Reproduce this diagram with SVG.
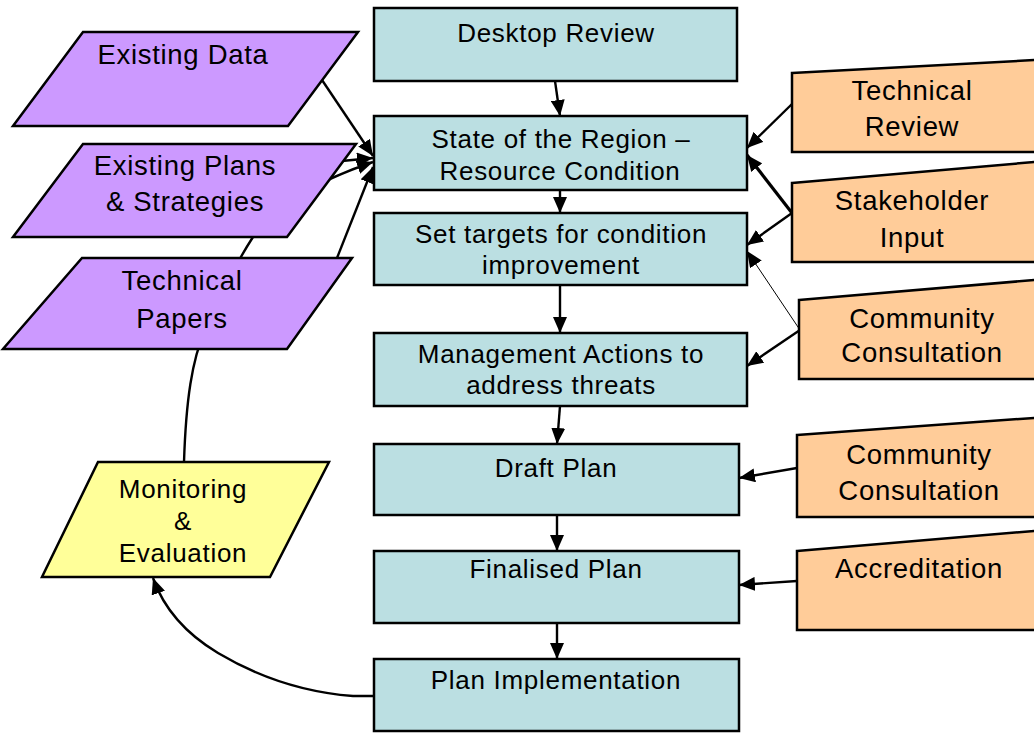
<svg xmlns="http://www.w3.org/2000/svg" width="1034" height="733" viewBox="0 0 1034 733">
  <style>
    .step { fill: #BBDFE2; stroke: #000; stroke-width: 2.5; }
    .input { fill: #CC99FF; stroke: #000; stroke-width: 2.5; stroke-linejoin: miter; }
    .review { fill: #FFFF99; stroke: #000; stroke-width: 2.5; }
    .external { fill: #FFCC99; stroke: #000; stroke-width: 2.5; }
    text { font-family: "Liberation Sans", Arial, sans-serif; font-size: 26px; letter-spacing: 0.7px; fill: #000; text-anchor: middle; }
    .large { font-size: 27.5px; }
    .link { fill: none; stroke: #000; stroke-width: 2.4; marker-end: url(#arrow); }
    .heavy { stroke-width: 3.2; }
    .thin { stroke-width: 1; }
  </style>
  <defs>
    <marker id="arrow" markerUnits="userSpaceOnUse" markerWidth="16" markerHeight="14" refX="16" refY="7" orient="auto">
      <path d="M0,0 L16,7 L0,14 z" fill="#000"/>
    </marker>
  </defs>

  <rect width="1034" height="733" fill="#fff"/>

  <!-- connectors, drawn first so they pass behind the shapes -->
  <g id="connectors">
    <!-- main process chain -->
    <path class="link" d="M555,81 L560,116"/>
    <path class="link" d="M560,190 L560,213"/>
    <path class="link" d="M560,285 L560,333"/>
    <path class="link" d="M560,406 L557,444"/>
    <path class="link" d="M557,515 L557,551"/>
    <path class="link" d="M557,623 L557,659"/>

    <!-- inputs on the left -->
    <path class="link" d="M322,80 L373,156"/>
    <path class="link" d="M300,165 L373,158"/>
    <path class="link" d="M337,258 L373,167"/>
    <!-- monitoring feedback loop into the state of the region -->
    <path class="link" d="M184,462 C186,400 192,360 205,330 C220,295 235,265 253,237 C275,205 320,180 373,162"/>

    <!-- inputs on the right -->
    <path class="link" d="M792,104 L747,148"/>
    <path class="link heavy" d="M792,213 L747,155"/>
    <path class="link" d="M792,213 L747,245"/>
    <path class="link thin" d="M800,330 L747,251"/>
    <path class="link" d="M800,330 L747,366"/>
    <path class="link" d="M797,468 L739,478"/>
    <path class="link" d="M797,581 L739,585"/>

    <!-- implementation back to monitoring -->
    <path class="link" d="M377,696 L353,696 C300,692 255,675 218,653 C188,635 165,612 153,578"/>
  </g>

  <!-- process steps -->
  <g id="desktop-review">
    <rect class="step" x="374" y="8" width="363" height="73"/>
    <text x="556" y="42">Desktop Review</text>
  </g>
  <g id="state-of-region">
    <rect class="step" x="374" y="116" width="373" height="74"/>
    <text x="561" y="148">State of the Region –</text>
    <text x="560" y="180">Resource Condition</text>
  </g>
  <g id="set-targets">
    <rect class="step" x="374" y="213" width="373" height="72"/>
    <text x="561" y="243">Set targets for condition</text>
    <text x="561" y="274">improvement</text>
  </g>
  <g id="management-actions">
    <rect class="step" x="374" y="333" width="373" height="73"/>
    <text x="561" y="363">Management Actions to</text>
    <text x="561" y="394">address threats</text>
  </g>
  <g id="draft-plan">
    <rect class="step" x="374" y="444" width="365" height="71"/>
    <text x="556" y="477">Draft Plan</text>
  </g>
  <g id="finalised-plan">
    <rect class="step" x="374" y="551" width="365" height="72"/>
    <text x="556" y="578">Finalised Plan</text>
  </g>
  <g id="plan-implementation">
    <rect class="step" x="374" y="659" width="365" height="72"/>
    <text x="556" y="689">Plan Implementation</text>
  </g>

  <!-- data inputs -->
  <g id="existing-data">
    <polygon class="input" points="83,32 358,32 288,126 13,126"/>
    <text class="large" x="183" y="64">Existing Data</text>
  </g>
  <g id="existing-plans">
    <polygon class="input" points="83,144 356,144 287,237 13,237"/>
    <text class="large" x="185" y="175">Existing Plans</text>
    <text class="large" x="185" y="211">&amp; Strategies</text>
  </g>
  <g id="technical-papers">
    <polygon class="input" points="82,258 352,258 287,349 3,349"/>
    <text class="large" x="182" y="290">Technical</text>
    <text class="large" x="182" y="328">Papers</text>
  </g>

  <g id="monitoring-evaluation">
    <polygon class="review" points="98,462 329,462 270,577 42,577"/>
    <text x="183" y="498">Monitoring</text>
    <text x="183" y="530">&amp;</text>
    <text x="183" y="562">Evaluation</text>
  </g>

  <!-- external inputs -->
  <g id="technical-review">
    <polygon class="external" points="792,73 1040,59.7 1040,152 792,152"/>
    <text class="large" x="912" y="100">Technical</text>
    <text class="large" x="912" y="136">Review</text>
  </g>
  <g id="stakeholder-input">
    <polygon class="external" points="792,183 1040,161.5 1040,262 792,262"/>
    <text class="large" x="912" y="210">Stakeholder</text>
    <text class="large" x="912" y="247">Input</text>
  </g>
  <g id="community-consultation-1">
    <polygon class="external" points="799,300 1040,279.5 1040,379 799,379"/>
    <text class="large" x="922" y="328">Community</text>
    <text class="large" x="922" y="362">Consultation</text>
  </g>
  <g id="community-consultation-2">
    <polygon class="external" points="797,435 1040,417.5 1040,517 797,517"/>
    <text class="large" x="919" y="464">Community</text>
    <text class="large" x="919" y="500">Consultation</text>
  </g>
  <g id="accreditation">
    <polygon class="external" points="797,551 1040,530.5 1040,630 797,630"/>
    <text class="large" x="919" y="578">Accreditation</text>
  </g>
</svg>
